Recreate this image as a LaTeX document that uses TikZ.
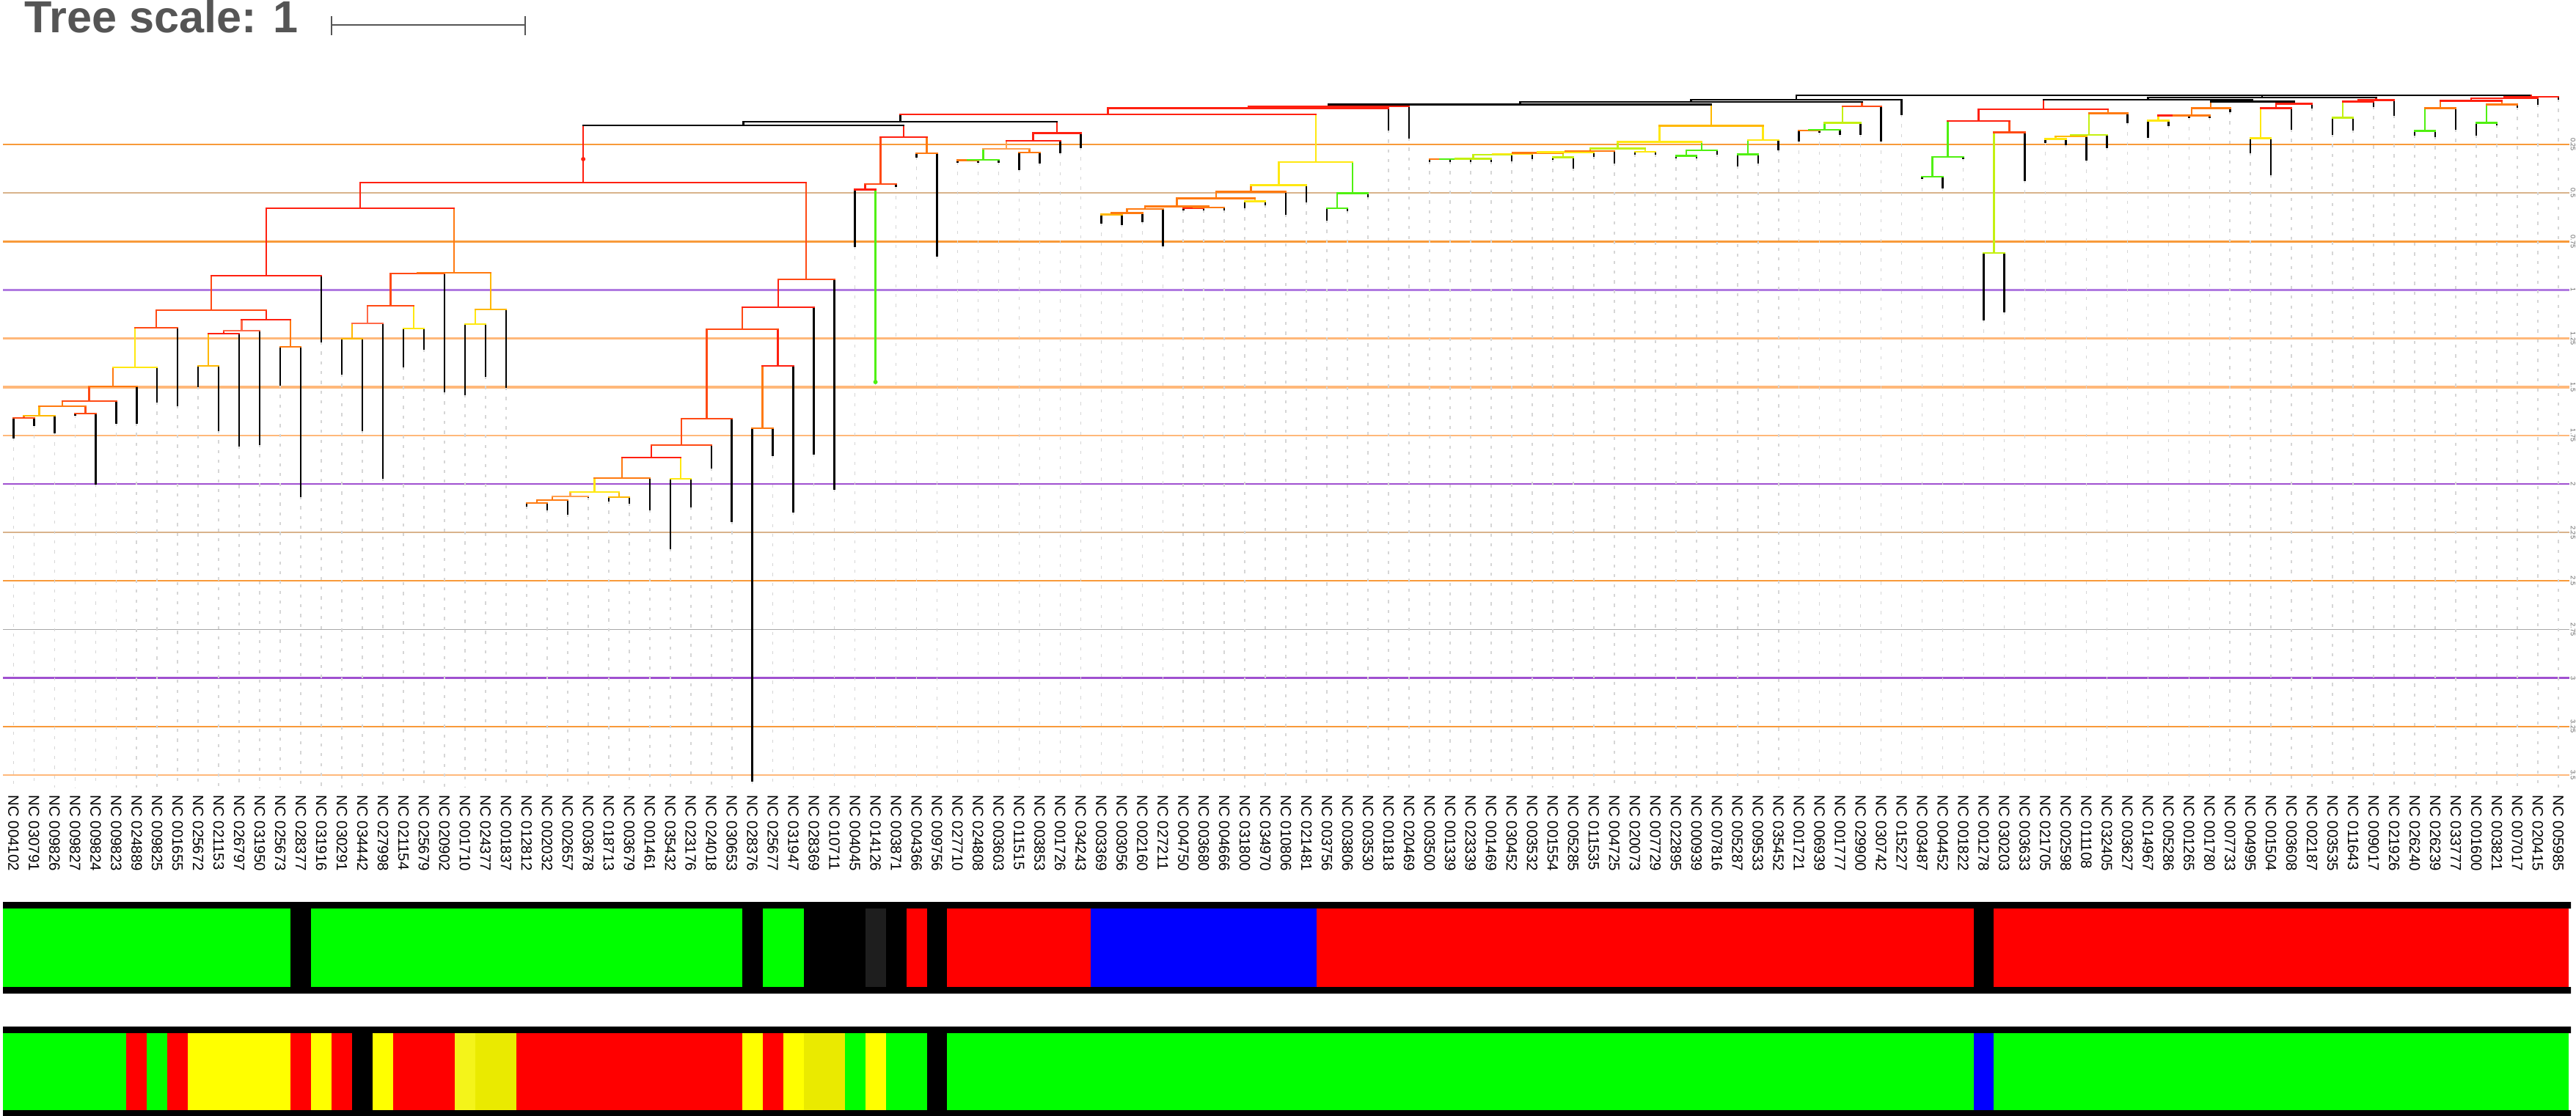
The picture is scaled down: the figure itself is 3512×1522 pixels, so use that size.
\documentclass[tikz,border=0pt]{standalone}
\usepackage{fontspec}
\setmainfont{Liberation Sans}
\usetikzlibrary{calc}
\definecolor{trRed}{HTML}{FF2010}
\definecolor{trRedOr}{HTML}{FF4A14}
\definecolor{trSalmon}{HTML}{FF6A4A}
\definecolor{trOrange}{HTML}{FF7A10}
\definecolor{trLtOrange}{HTML}{FFA050}
\definecolor{trGold}{HTML}{FFB800}
\definecolor{trYellow}{HTML}{FFE810}
\definecolor{trLime}{HTML}{C4F010}
\definecolor{trGreen}{HTML}{50F010}
\definecolor{lnOrange}{HTML}{F89A3A}
\definecolor{lnPeach}{HTML}{FFB87A}
\definecolor{lnTan}{HTML}{D9B38C}
\definecolor{lnPurple}{HTML}{B07AE0}
\definecolor{lnViolet}{HTML}{A050D0}
\definecolor{lnGrey}{HTML}{A8A8A8}
\definecolor{gridgrey}{HTML}{D6D6D6}
\definecolor{titlegrey}{HTML}{555555}
\definecolor{barGreen}{HTML}{00FF00}
\definecolor{barRed}{HTML}{FF0000}
\definecolor{barBlue}{HTML}{0000FF}
\definecolor{barYellow}{HTML}{FFFF00}
\definecolor{barPale}{HTML}{F4F41A}
\definecolor{barOlive}{HTML}{EAEA00}
\definecolor{barDark}{HTML}{1E1E1E}

\tikzset{
  branch/.style={line width=0.7pt, line cap=rect},
  gridline/.style={gridgrey, line width=0.45pt, dash pattern=on 1.2pt off 2.6pt},
  leaflab/.style={rotate=-90, anchor=west, inner sep=0pt, font=\fontsize{5.8pt}{7pt}\selectfont},
  depthlab/.style={rotate=-90, inner sep=0pt, text=black!60, font=\fontsize{2.6pt}{3pt}\selectfont},
}

% clade: name, left child, right child, height (px), colour
\newcommand\clade[5]{%
  \coordinate (#1) at ($(#2 |- 0,#4)!.5!(#3 |- 0,#4)$);
  \draw[branch, cq#2] (#2 |- #1) -- (#2);
  \draw[branch, cq#3] (#3 |- #1) -- (#3);
  \draw[branch, #5] (#2 |- #1) -- (#3 |- #1);
  \colorlet{cq#1}{#5}}

\begin{document}
\begin{tikzpicture}[x=0.01cm, y=-0.01cm]
\useasboundingbox (0,0) rectangle (3512,1522);

% scale
\node[anchor=base west, inner sep=0pt, text=titlegrey, font=\bfseries\fontsize{17.4pt}{20pt}\selectfont] (title) at (33,45) {Tree scale: 1};
\draw[titlegrey, line width=0.6pt] (452,22) -- (452,48) (452,34) -- (716,34) (716,22) -- (716,48);

% depth lines
\foreach \d/\c/\w [count=\k] in {0.25/lnOrange/2.2, 0.5/lnTan/1.8, 0.75/lnOrange/2.6, 1/lnPurple/2.6,
    1.25/lnPeach/3.6, 1.5/lnPeach/3.6, 1.75/lnPeach/2.2, 2/lnViolet/2.6, 2.25/lnTan/1.6,
    2.5/lnOrange/2, 2.75/lnGrey/1.6, 3/lnViolet/2.4, 3.25/lnOrange/2.2, 3.5/lnPeach/2.6}{
  \draw[\c, line width=\w*0.2845pt] (4,{130.85+264.6*\d}) -- (3503,{130.85+264.6*\d});
  \node[depthlab] (dl\k) at (3508,{130.85+264.6*\d}) {\d};
}

% leaves
\foreach \i/\t/\n in {0/597/004102, 1/580/030791, 2/590/009826, 3/566/009827, 4/660/009824,
    5/577/009823, 6/577/024889, 7/548/009825, 8/553/001655, 9/527/025672, 10/587/021153,
    11/608/026797, 12/606/031950, 13/525/025673, 14/677/028377, 15/466/031916, 16/510/030291,
    17/587/034442, 18/652/027998, 19/500/021154, 20/476/025679, 21/534/020902, 22/538/001710,
    23/513/024377, 24/528/001837, 25/690/012812, 26/695/002032, 27/701/002657, 28/678/003678,
    29/683/018713, 30/686/003679, 31/695/001461, 32/748/035432, 33/691/023176, 34/638/024018,
    35/711/030653, 36/1065/028376, 37/621/025677, 38/698/031947, 39/619/028369, 40/667/010711,
    41/336/004045, 42/521/014126, 43/254/003871, 44/214/004366, 45/349/009756, 46/221/027710,
    47/221/024808, 48/221/003603, 49/231/011515, 50/222/003853, 51/208/001726, 52/201/034243,
    53/304/003369, 54/306/003056, 55/302/002160, 56/335/027211, 57/286/004750, 58/286/003680,
    59/286/004666, 60/283/031800, 61/279/034970, 62/292/010806, 63/275/021481, 64/300/003756,
    65/287/003806, 66/268/003530, 67/177/001818, 68/188/020469, 69/220/003500, 70/220/001339,
    71/220/023339, 72/220/001469, 73/219/030452, 74/216/003532, 75/217/001554, 76/229/005285,
    77/213/011535, 78/222/004725, 79/210/020073, 80/210/007729, 81/215/022895, 82/215/000939,
    83/210/007816, 84/226/005287, 85/222/009533, 86/204/035452, 87/192/001721, 88/180/006939,
    89/183/001777, 90/183/029900, 91/192/030742, 92/156/015227, 93/243/003487, 94/256/004452,
    95/216/001822, 96/436/001278, 97/425/030203, 98/246/003633, 99/194/021705, 100/197/002598,
    101/218/011108, 102/201/032405, 103/167/003627, 104/187/014967, 105/171/005286,
    106/160/001265, 107/160/001780, 108/152/007733, 109/208/004995, 110/238/001504,
    111/176/003608, 112/147/002187, 113/183/003535, 114/177/011643, 115/145/009017,
    116/157/021926, 117/184/026240, 118/186/026239, 119/176/033777, 120/184/001600,
    121/170/003821, 122/146/007017, 123/142/020415, 124/135/005985}{
  \coordinate (l\i) at ({18.4+27.98*\i},\t);
  \xglobal\colorlet{cql\i}{black}
  \draw[gridline] (l\i) -- (l\i |- 0,1074);
  \node[leaflab] (t\i) at (l\i |- 0,1084) {NC \n};
}
\xglobal\colorlet{cql42}{trGreen}

% left block
\clade{A1}{l0}{l1}{570}{trRedOr}
\clade{A2}{A1}{l2}{567}{trGold}
\clade{B}{l3}{l4}{564}{trRedOr}
\clade{A3}{A2}{B}{554}{trOrange}
\clade{A4}{A3}{l5}{547}{trRedOr}
\clade{A5}{A4}{l6}{527}{trOrange}
\clade{A6}{A5}{l7}{501}{trYellow}
\clade{A7}{A6}{l8}{447}{trRedOr}
\clade{C1}{l9}{l10}{499}{trGold}
\clade{C2}{C1}{l11}{455}{trRed}
\clade{C3}{C2}{l12}{451}{trSalmon}
\clade{D}{l13}{l14}{473}{trOrange}
\clade{C4}{C3}{D}{436}{trRed}
\clade{A8}{A7}{C4}{423}{trRedOr}
\clade{A9}{A8}{l15}{376}{trRed}
\clade{E1}{l16}{l17}{462}{trGold}
\clade{E2}{E1}{l18}{441}{trSalmon}
\clade{F}{l19}{l20}{448}{trYellow}
\clade{E3}{E2}{F}{417}{trRedOr}
\clade{E4}{E3}{l21}{373}{trRedOr}
\clade{G}{l22}{l23}{442}{trYellow}
\clade{G2}{G}{l24}{422}{trGold}
\clade{E5}{E4}{G2}{372}{trOrange}
\clade{A10}{A9}{E5}{284}{trRed}

% middle block
\clade{Q10}{l25}{l26}{686}{trOrange}
\clade{Q9}{Q10}{l27}{682}{trOrange}
\clade{Q8}{Q9}{l28}{677}{trLtOrange}
\clade{T}{l29}{l30}{678}{trGold}
\clade{Q7}{Q8}{T}{671}{trYellow}
\clade{Q6}{Q7}{l31}{652}{trOrange}
\clade{S}{l32}{l33}{653}{trYellow}
\clade{Q5}{Q6}{S}{624}{trRed}
\clade{Q4}{Q5}{l34}{607}{trRedOr}
\clade{Q3}{Q4}{l35}{571}{trRedOr}
\clade{Y1}{l36}{l37}{584}{trOrange}
\clade{Y2}{Y1}{l38}{499}{trRed}
\clade{Q2}{Q3}{Y2}{449}{trRedOr}
\clade{Q1}{Q2}{l39}{419}{trRed}
\clade{Q}{Q1}{l40}{381}{trRedOr}
\clade{P}{A10}{Q}{249}{trRed}
\clade{U2}{l41}{l42}{258.5}{trRed}
\clade{U1}{U2}{l43}{251}{trRedOr}
\clade{U3}{l44}{l45}{209}{trOrange}
\clade{U}{U1}{U3}{187}{trRed}
\clade{N1}{P}{U}{171}{black}
\fill[trRed] (P |- 0,217) circle (3);
\fill[trGreen] (l42) circle (3);

% V and W blocks
\clade{V5}{l46}{l47}{218.5}{trOrange}
\clade{V4}{V5}{l48}{218}{trGreen}
\clade{V3}{l49}{l50}{208}{trOrange}
\clade{V2}{V4}{V3}{203}{trLtOrange}
\clade{V1}{V2}{l51}{192}{trRed}
\clade{V0}{V1}{l52}{181.7}{trRed}
\clade{N2}{N1}{V0}{166}{black}
\clade{W9}{l53}{l54}{292.7}{trGold}
\clade{W8}{W9}{l55}{290.7}{trOrange}
\clade{W7}{W8}{l56}{285}{trOrange}
\clade{W6a}{l57}{l58}{283.5}{trRed}
\clade{W6}{W6a}{l59}{283}{trOrange}
\clade{W5}{W7}{W6}{281.7}{trOrange}
\clade{W4}{l60}{l61}{274.7}{trYellow}
\clade{W3}{W5}{W4}{270.7}{trOrange}
\clade{W2}{W3}{l62}{261.7}{trOrange}
\clade{W1}{W2}{l63}{252.7}{trYellow}
\clade{X1}{l64}{l65}{284}{trGreen}
\clade{X}{X1}{l66}{263.3}{trGreen}
\clade{W0}{W1}{X}{221}{trYellow}
\clade{N3}{N2}{W0}{156}{trRed}
\clade{N4}{N3}{l67}{147.7}{trRed}
\clade{N5}{N4}{l68}{145}{trRed}

% Z block
\clade{Z1}{l69}{l70}{217}{trOrange}
\clade{Z2}{Z1}{l71}{217}{trGreen}
\clade{Z3}{Z2}{l72}{216.5}{trLime}
\clade{Z4}{Z3}{l73}{211}{trLime}
\clade{Z5}{Z4}{l74}{210}{trYellow}
\clade{Z7}{l75}{l76}{214.3}{trLime}
\clade{Z6}{Z5}{Z7}{208.3}{trOrange}
\clade{Z8}{Z6}{l77}{207.7}{trYellow}
\clade{Z9}{Z8}{l78}{206}{trOrange}
\clade{Z10}{l79}{l80}{207}{trYellow}
\clade{Z11}{Z9}{Z10}{202.7}{trLime}
\clade{Z14}{l81}{l82}{212.7}{trGreen}
\clade{Z13}{Z14}{l83}{205}{trGreen}
\clade{Z12}{Z11}{Z13}{193.3}{trYellow}
\clade{Z16}{l84}{l85}{210.7}{trGreen}
\clade{Z15}{Z16}{l86}{191}{trYellow}
\clade{N7}{Z12}{Z15}{171.7}{trGold}
\clade{N6}{N5}{N7}{142.5}{black}
\clade{Z19}{l87}{l88}{178}{trOrange}
\clade{Z18}{Z19}{l89}{177}{trGreen}
\clade{Z17}{Z18}{l90}{167.7}{trLime}
\clade{Z20}{Z17}{l91}{145}{trRedOr}
\clade{N8}{N6}{Z20}{139}{black}
\clade{N9}{N8}{l92}{136}{black}

% K to I blocks
\clade{K3}{l93}{l94}{241}{trGreen}
\clade{K2}{K3}{l95}{214}{trGreen}
\clade{Z21}{l96}{l97}{345}{trLime}
\clade{K4}{Z21}{l98}{180.7}{trRedOr}
\clade{K1}{K2}{K4}{165}{trRed}
\clade{K8}{l99}{l100}{189.7}{trYellow}
\clade{K7}{K8}{l101}{186}{trGold}
\clade{K6}{K7}{l102}{184}{trLime}
\clade{K5}{K6}{l103}{154.3}{trOrange}
\clade{Ca}{K1}{K5}{149}{trRed}
\clade{J3}{l104}{l105}{164.3}{trYellow}
\clade{J2}{J3}{l106}{157.7}{trRed}
\clade{J1}{J2}{l107}{157.7}{trOrange}
\clade{Cb}{J1}{l108}{147.7}{trOrange}
\clade{H2}{l109}{l110}{188.7}{trYellow}
\clade{H1}{H2}{l111}{147.7}{trRed}
\clade{Cc}{H1}{l112}{141.7}{trRed}
\clade{I2}{l113}{l114}{160.7}{trLime}
\clade{I1}{I2}{l115}{138.3}{trRed}
\clade{Cd}{I1}{l116}{136.7}{trRed}
\clade{M1}{Cb}{Cc}{138.5}{black}
\clade{M2}{Ca}{M1}{136}{black}
\clade{M}{M2}{Cd}{133}{black}

% R block
\clade{R7}{l117}{l118}{178.7}{trGreen}
\clade{R6}{R7}{l119}{147.3}{trOrange}
\clade{R5}{l120}{l121}{167.7}{trGreen}
\clade{R4}{R5}{l122}{142.7}{trOrange}
\clade{R3}{R6}{R4}{137.7}{trRed}
\clade{R2}{R3}{l123}{134}{trRed}
\clade{R1}{R2}{l124}{132}{trRed}

% root
\coordinate (root) at (M |- 0,130);
\draw[branch, black] (N9 |- root) -- (R1 |- root);
\draw[branch, cqN9] (N9 |- root) -- (N9);
\draw[branch, cqM] (M |- root) -- (M);
\draw[branch, cqR1] (R1 |- root) -- (R1);

% strips
\fill[black] (4,1230) rectangle (3505,1239) (4,1346) rectangle (3505,1355);
\foreach \a/\b/\c in {0/13/barGreen, 14/14/black, 15/35/barGreen, 36/36/black, 37/38/barGreen,
    39/41/black, 42/42/barDark, 43/43/black, 44/44/barRed, 45/45/black, 46/52/barRed,
    53/63/barBlue, 64/95/barRed, 96/96/black, 97/124/barRed}
  \fill[\c] ({4.4+27.98*\a},1239) rectangle ({32.4+27.98*\b},1346);
\fill[black] (4,1400) rectangle (3505,1409) (4,1514) rectangle (3505,1522);
\foreach \a/\b/\c in {0/5/barGreen, 6/6/barRed, 7/7/barGreen, 8/8/barRed, 9/13/barYellow,
    14/14/barRed, 15/15/barYellow, 16/16/barRed, 17/17/black, 18/18/barYellow, 19/21/barRed,
    22/22/barPale, 23/24/barOlive, 25/35/barRed, 36/36/barYellow, 37/37/barRed,
    38/38/barYellow, 39/40/barOlive, 41/41/barGreen, 42/42/barYellow, 43/44/barGreen,
    45/45/black, 46/95/barGreen, 96/96/barBlue, 97/124/barGreen}
  \fill[\c] ({4.4+27.98*\a},1409) rectangle ({32.4+27.98*\b},1514);
\end{tikzpicture}
\end{document}
